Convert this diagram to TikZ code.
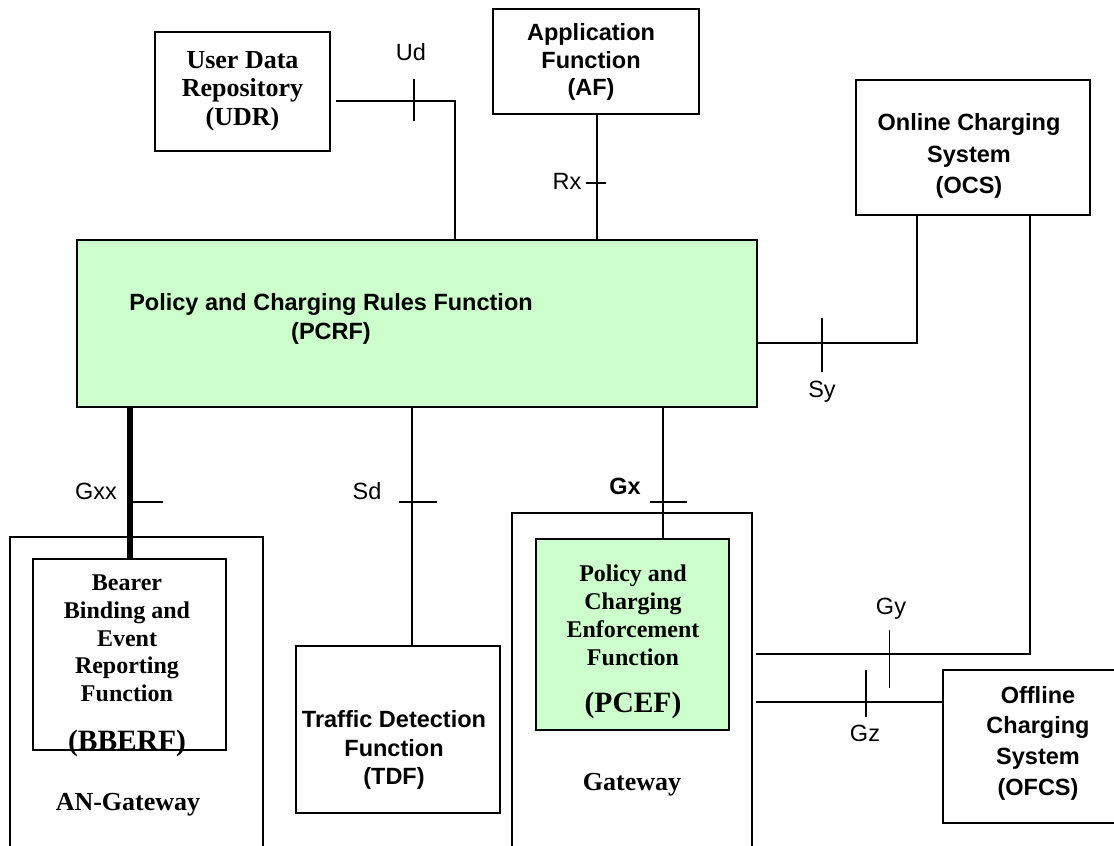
\documentclass[tikz,border=0pt]{standalone}
\usepackage{fontspec}
\setmainfont{Liberation Serif}
\setsansfont{Liberation Sans}
\definecolor{pcrfgreen}{HTML}{CCFFCC}

\begin{document}
\begin{tikzpicture}[x=1pt, y=-1pt, line width=1.1pt,
	box/.style={draw, line width=1.4pt, inner sep=0pt},
	sanstxt/.style={font=\sffamily\bfseries\fontsize{23.5}{29}\selectfont, align=center, inner sep=0pt},
	seriftxt/.style={font=\bfseries\fontsize{24}{28}\selectfont, align=center, inner sep=0pt},
	iface/.style={font=\sffamily\fontsize{23.5}{28}\selectfont, inner sep=0pt}]
	\useasboundingbox (0,0) rectangle (1114,846);
	\clip (0,0) rectangle (1114,846);
	% boxes
	\node[box, minimum width=175, minimum height=119] (udr) at (242.5,91.5) {};
	\node[box, minimum width=206, minimum height=105] (af) at (596,61.5) {};
	\node[box, minimum width=234, minimum height=135] (ocs) at (973,147.5) {};
	\node[box, fill=pcrfgreen, minimum width=680, minimum height=167] (pcrf) at (417,323.5) {};
	\node[box, minimum width=253, minimum height=343] (angw) at (136.5,708.5) {};
	\node[box, minimum width=193, minimum height=191] (bberf) at (129.5,654.5) {};
	\node[box, minimum width=204, minimum height=167] (tdf) at (398,729.5) {};
	\node[box, minimum width=240, minimum height=367] (gw) at (632,696.5) {};
	\node[box, fill=pcrfgreen, minimum width=193, minimum height=191] (pcef) at (632.5,634.5) {};
	\node[box, minimum width=190, minimum height=153] (ofcs) at (1038,746.5) {};
	% box texts
	\node[seriftxt, font=\bfseries\fontsize{26}{28.5}\selectfont] (udr_txt) at (242.5,91) {User Data\\Repository\\(UDR)};
	\node[sanstxt, font=\sffamily\bfseries\fontsize{23.5}{27.5}\selectfont] (af_txt) at (591,62) {Application\\Function\\(AF)};
	\node[sanstxt, font=\sffamily\bfseries\fontsize{23.5}{31.7}\selectfont] (ocs_txt) at (969,156) {Online Charging\\System\\(OCS)};
	\node[sanstxt] (pcrf_txt) at (331,319) {Policy and Charging Rules Function\\(PCRF)};
	\node[seriftxt, font=\bfseries\fontsize{24}{27.7}\selectfont] (bberf_txt) at (127,666) {Bearer\\Binding and\\Event\\Reporting\\Function\\[21.7pt]{\fontsize{29.5}{34}\selectfont(BBERF)}};
	\node[seriftxt, font=\bfseries\fontsize{26}{30}\selectfont] (angw_txt) at (128,805) {AN-Gateway};
	\node[sanstxt, font=\sffamily\bfseries\fontsize{23.5}{28.5}\selectfont] (tdf_txt) at (394,750) {Traffic Detection\\Function\\(TDF)};
	\node[seriftxt] (pcef_txt) at (633,642) {Policy and\\Charging\\Enforcement\\Function\\[19.4pt]{\fontsize{29.5}{34}\selectfont(PCEF)}};
	\node[seriftxt, font=\bfseries\fontsize{26}{30}\selectfont] (gw_txt) at (632,785) {Gateway};
	\node[sanstxt, font=\sffamily\bfseries\fontsize{23.5}{30.7}\selectfont] (ofcs_txt) at (1038,743) {Offline\\Charging\\System\\(OFCS)};
	% reference points
	\coordinate (ud_bend) at (455,101);
	\coordinate (ud) at (414,101);
	\coordinate (rx) at (597,183);
	\coordinate (sy_bend) at (917,343);
	\coordinate (sy) at (822,343);
	\coordinate (gxx) at (130,502);
	\coordinate (sd) at (412,502);
	\coordinate (gx) at (663,502);
	\coordinate (gy_end) at (756,654);
	\coordinate (gy_bend) at (1030,654);
	\coordinate (gy) at (889.5,654);
	\coordinate (gz_end) at (756,702);
	\coordinate (gz) at (866,702);
	% interfaces
	\draw (udr.east |- ud_bend) ++(5,0) -- (ud_bend) -- (ud_bend |- pcrf.north);
	\draw (ud) ++(0,-22) -- ++(0,42);
	\node[iface] (ud_lbl) at (411,52) {Ud};
	\draw (af.south -| rx) -- (rx |- pcrf.north);
	\draw (rx) ++(-11,0) -- ++(20,0);
	\node[iface] (rx_lbl) at (567,181) {Rx};
	\draw (pcrf.east |- sy_bend) -- (sy_bend) -- (sy_bend |- ocs.south);
	\draw (sy) ++(0,-25) -- ++(0,54);
	\node[iface] (sy_lbl) at (822,392) {Sy};
	\draw[line width=5.5pt] (pcrf.south -| gxx) -- (bberf.north -| gxx);
	\draw (gxx) ++(-3,0) -- ++(36,0);
	\node[iface] (gxx_lbl) at (96,491) {Gxx};
	\draw (pcrf.south -| sd) -- (tdf.north -| sd);
	\draw (sd) ++(-13,0) -- ++(38,0);
	\node[iface] (sd_lbl) at (367,491) {Sd};
	\draw (pcrf.south -| gx) -- (pcef.north -| gx);
	\draw (gx) ++(-13,0) -- ++(37,0);
	\node[iface, font=\sffamily\bfseries\fontsize{23.5}{28}\selectfont] (gx_lbl) at (625,486) {Gx};
	\draw (gy_end) -- (gy_bend) -- (gy_bend |- ocs.south);
	\draw (gy) ++(0,-24) -- ++(0,58);
	\node[iface] (gy_lbl) at (891,609) {Gy};
	\draw (gz_end) -- (gz_end -| ofcs.west);
	\draw (gz) ++(0,-32) -- ++(0,47);
	\node[iface] (gz_lbl) at (865,733) {Gz};
\end{tikzpicture}
\end{document}
